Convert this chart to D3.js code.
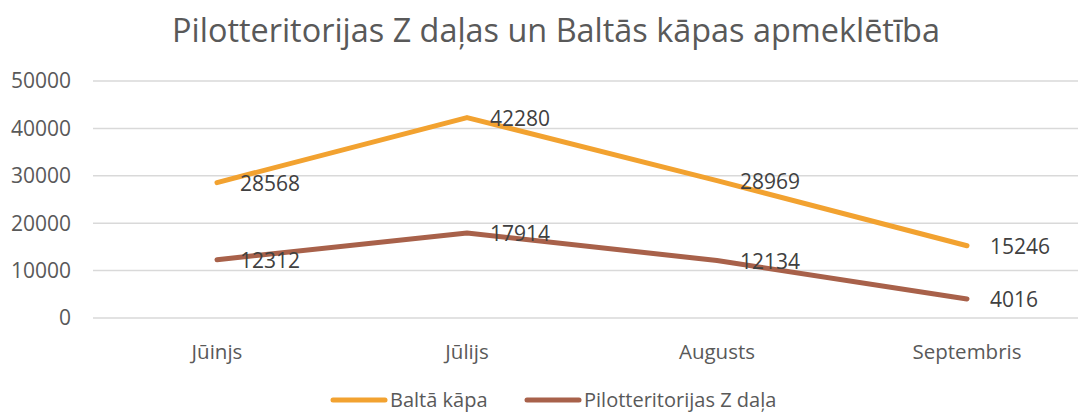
<!DOCTYPE html>
<html>
<head>
<meta charset="utf-8">
<script src="https://cdn.jsdelivr.net/npm/d3@7"></script>
<style>
  body { margin: 0; background: #fff; }
  text { font-family: "Open Sans", sans-serif; }
</style>
</head>
<body>
<svg id="chart" width="1078" height="414"></svg>
<script>
const months = ["Jūinjs", "Jūlijs", "Augusts", "Septembris"];
const baltaKapa = [28568, 42280, 28969, 15246];
const pilotZDala = [12312, 17914, 12134, 4016];
const yTicks = [0, 10000, 20000, 30000, 40000, 50000];

const seriesNames = ["Baltā kāpa", "Pilotteritorijas Z daļa"];
const seriesColors = ["#F2A230", "#A8614A"];

const width = 1078;
const height = 414;

const svg = d3.select("#chart");

const x = d3.scalePoint()
    .domain(months)
    .range([217, 967]);

const y = d3.scaleLinear()
    .domain([0, 50000])
    .range([318, 81]);

// title
const title = svg.append("text")
    .attr("x", 556)
    .attr("y", 42)
    .attr("text-anchor", "middle")
    .attr("fill", "#595959")
    .style("font-size", "32px")
    .text("Pilotteritorijas Z daļas un Baltās kāpas apmeklētība");
// squeeze to the width of the original title
const tw = title.node().getComputedTextLength();
title.style("font-size", (32 * 768 / tw) + "px");

// gridlines
svg.append("g")
    .selectAll("line")
    .data(yTicks)
    .enter().append("line")
    .attr("x1", 93)
    .attr("x2", width)
    .attr("y1", d => y(d))
    .attr("y2", d => y(d))
    .attr("stroke", "#D9D9D9")
    .attr("stroke-width", 1.5);

// y labels
svg.append("g")
    .selectAll("text")
    .data(yTicks)
    .enter().append("text")
    .attr("x", 71)
    .attr("y", d => y(d))
    .attr("dy", "0.35em")
    .attr("text-anchor", "end")
    .attr("fill", "#595959")
    .style("font-size", "21px")
    .text(d => d);

// x labels
svg.append("g")
    .selectAll("text")
    .data(months)
    .enter().append("text")
    .attr("x", d => x(d))
    .attr("y", 359)
    .attr("text-anchor", "middle")
    .attr("fill", "#595959")
    .style("font-size", "20.5px")
    .text(d => d);

const line = d3.line()
    .x((d, i) => x(months[i]))
    .y(d => y(d));

const allSeries = [baltaKapa, pilotZDala];

allSeries.forEach((values, s) => {
    svg.append("path")
        .datum(values)
        .attr("d", line)
        .attr("fill", "none")
        .attr("stroke", seriesColors[s])
        .attr("stroke-width", 5)
        .attr("stroke-linecap", "round")
        .attr("stroke-linejoin", "round");
});

// data labels on top of both lines
allSeries.forEach((values, s) => {
    svg.append("g")
        .selectAll("text")
        .data(values)
        .enter().append("text")
        .attr("x", (d, i) => x(months[i]) + 23)
        .attr("y", d => y(d) + 1)
        .attr("dy", "0.35em")
        .attr("fill", "#404040")
        .style("font-size", "21px")
        .text(d => d);
});

// legend
const legendX = [333, 527];
seriesNames.forEach((name, s) => {
    const g = svg.append("g").attr("transform", `translate(${legendX[s]},400)`);
    g.append("line")
        .attr("x1", 0)
        .attr("x2", 52)
        .attr("stroke", seriesColors[s])
        .attr("stroke-width", 5)
        .attr("stroke-linecap", "round");
    g.append("text")
        .attr("x", 57)
        .attr("dy", "0.35em")
        .attr("fill", "#595959")
        .style("font-size", "20px")
        .text(name);
});
</script>
</body>
</html>
